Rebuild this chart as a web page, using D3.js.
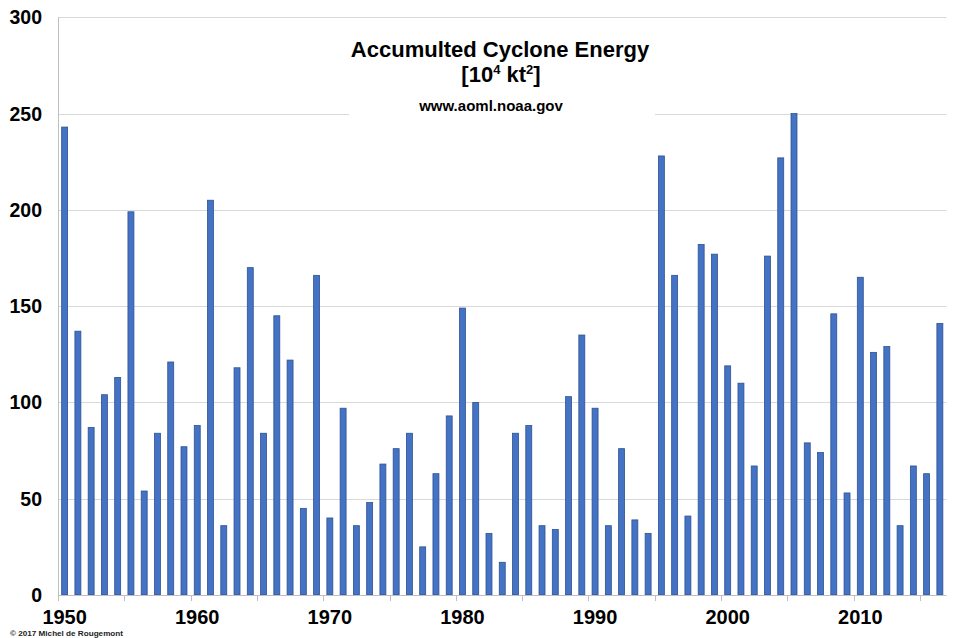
<!DOCTYPE html>
<html>
<head>
<meta charset="utf-8">
<script src="https://cdn.jsdelivr.net/npm/d3@7"></script>
<style>
  html, body { margin: 0; padding: 0; background: #fff; }
  svg { display: block; }
</style>
</head>
<body>
<svg id="chart" width="976" height="638"></svg>
<script>
const years = d3.range(1950, 2017);
const ace = [243, 137, 87, 104, 113, 199, 54, 84, 121, 77,
             88, 205, 36, 118, 170, 84, 145, 122, 45, 166,
             40, 97, 36, 48, 68, 76, 84, 25, 63, 93,
             149, 100, 32, 17, 84, 88, 36, 34, 103, 135,
             97, 36, 76, 39, 32, 228, 166, 41, 182, 177,
             119, 110, 67, 176, 227, 250, 79, 74, 146, 53,
             165, 126, 129, 36, 67, 63, 141];
const yTicks = [0, 50, 100, 150, 200, 250, 300];
const xLabelYears = [1950, 1960, 1970, 1980, 1990, 2000, 2010];
const titleLines = ["Accumulted Cyclone Energy"];
const sourceText = "www.aoml.noaa.gov";
const copyrightText = "© 2017 Michel de Rougemont";

const svg = d3.select("#chart");
const plotL = 58, plotR = 946.5, plotT = 17.3, plotB = 595;

const x = d3.scaleBand().domain(years).range([plotL, plotR]).paddingInner(0.55).paddingOuter(0.275);
const y = d3.scaleLinear().domain([0, 300]).range([plotB, plotT]);

const font = "'Liberation Sans', Arial, sans-serif";

// gridlines
svg.append("g").selectAll("line").data(yTicks.filter(d => d > 0)).join("line")
  .attr("x1", plotL).attr("x2", plotR)
  .attr("y1", d => Math.round(y(d)) + 0.5).attr("y2", d => Math.round(y(d)) + 0.5)
  .attr("stroke", "#d9d9d9").attr("stroke-width", 1);

// title background box
svg.append("rect").attr("x", 349).attr("y", 30).attr("width", 306).attr("height", 92).attr("fill", "#fff");

// bars
svg.append("g").selectAll("rect").data(years).join("rect")
  .attr("x", d => x(d))
  .attr("width", x.bandwidth())
  .attr("y", (d, i) => y(ace[i]))
  .attr("height", (d, i) => y(0) - y(ace[i]))
  .attr("fill", "#4472C4")
  .attr("stroke", "#2F528F")
  .attr("stroke-width", 0.8);

// left axis line
svg.append("line").attr("x1", plotL + 0.5).attr("x2", plotL + 0.5).attr("y1", plotT).attr("y2", plotB)
  .attr("stroke", "#bfbfbf").attr("stroke-width", 1);

// bottom axis
const step = x.step();
const tickPos = d3.range(0, years.length + 1, 5).map(i => plotL + i * step);
const xAxisG = svg.append("g");
xAxisG.append("line").attr("x1", plotL).attr("x2", plotR).attr("y1", plotB + 0.5).attr("y2", plotB + 0.5)
  .attr("stroke", "#bfbfbf").attr("stroke-width", 1);
xAxisG.selectAll("line.tk").data(tickPos.filter(p => p <= plotR + 0.5)).join("line")
  .attr("class", "tk")
  .attr("x1", d => Math.round(d) + 0.5).attr("x2", d => Math.round(d) + 0.5).attr("y1", plotB).attr("y2", plotB + 6)
  .attr("stroke", "#bfbfbf").attr("stroke-width", 1);

// x labels
svg.append("g").selectAll("text").data(xLabelYears).join("text")
  .attr("x", d => x(d) + x.bandwidth() / 2)
  .attr("y", 624)
  .attr("text-anchor", "middle")
  .attr("font-family", font).attr("font-weight", "bold").attr("font-size", 20)
  .attr("fill", "#000")
  .text(d => d);

// y labels
svg.append("g").selectAll("text").data(yTicks).join("text")
  .attr("x", 42)
  .attr("y", d => y(d) + 7)
  .attr("text-anchor", "end")
  .attr("font-family", font).attr("font-weight", "bold").attr("font-size", 19.5)
  .attr("fill", "#000")
  .text(d => d);

// title
svg.append("text").attr("x", 500).attr("y", 57)
  .attr("text-anchor", "middle")
  .attr("font-family", font).attr("font-weight", "bold").attr("font-size", 22)
  .attr("fill", "#000")
  .text(titleLines[0]);

const t2 = svg.append("text").attr("x", 501).attr("y", 82)
  .attr("text-anchor", "middle")
  .attr("font-family", font).attr("font-weight", "bold").attr("font-size", 22)
  .attr("fill", "#000");
t2.append("tspan").text("[10");
t2.append("tspan").attr("font-size", 13).attr("dy", -8).text("4");
t2.append("tspan").attr("dy", 8).text(" kt");
t2.append("tspan").attr("font-size", 13).attr("dy", -8).text("2");
t2.append("tspan").attr("dy", 8).text("]");

svg.append("text").attr("x", 491).attr("y", 111)
  .attr("text-anchor", "middle")
  .attr("font-family", font).attr("font-weight", "bold").attr("font-size", 15)
  .attr("fill", "#000")
  .text(sourceText);

svg.append("text").attr("x", 10).attr("y", 636)
  .attr("font-family", font).attr("font-weight", "bold").attr("font-size", 8)
  .attr("textLength", 113).attr("lengthAdjust", "spacingAndGlyphs")
  .attr("fill", "#222")
  .text(copyrightText);
</script>
</body>
</html>
